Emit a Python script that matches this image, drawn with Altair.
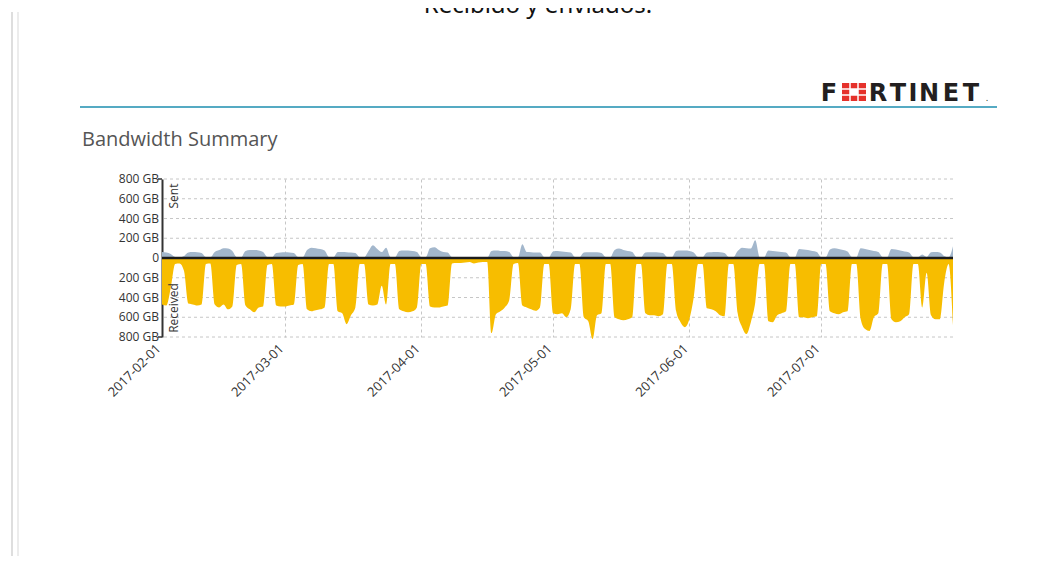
import altair as alt
import pandas as pd

# ---------------- data (GB per day) ----------------
start_date = "2017-02-01"
received_gb = [
    470, 480, 300, 60, 55,                 # Wed Feb 1 - Sun Feb 5
    130, 460, 470, 480, 470, 60, 55,       # Feb 6
    470, 500, 470, 520, 490, 70, 60,       # Feb 13
    480, 520, 550, 500, 490, 70, 60,       # Feb 20
    480, 490, 490, 480, 470, 70, 60,       # Feb 27
    520, 540, 530, 520, 500, 60, 60,       # Mar 6
    540, 560, 670, 580, 500, 60, 60,       # Mar 13
    470, 480, 470, 280, 470, 60, 60,       # Mar 20
    520, 540, 550, 540, 500, 60, 60,       # Mar 27
    490, 500, 500, 490, 480, 55, 50,       # Apr 3
    50, 45, 40, 55, 45, 40, 40,            # Apr 10
    760, 570, 540, 500, 430, 60, 50,       # Apr 17
    480, 500, 520, 535, 500, 60, 60,       # Apr 24
    560, 570, 560, 600, 520, 60, 60,       # May 1
    600, 640, 820, 580, 560, 60, 60,       # May 8
    600, 620, 630, 620, 600, 60, 60,       # May 15
    560, 580, 580, 590, 570, 60, 60,       # May 22
    540, 650, 700, 620, 400, 60, 60,       # May 29
    510, 520, 540, 580, 590, 60, 60,       # Jun 5
    560, 700, 770, 650, 450, 60, 60,       # Jun 12
    640, 650, 580, 560, 540, 60, 60,       # Jun 19
    600, 600, 610, 600, 590, 60, 60,       # Jun 26
    540, 560, 570, 550, 540, 60, 60,       # Jul 3
    620, 720, 740, 600, 560, 60, 60,       # Jul 10
    620, 650, 640, 600, 570, 60, 60,       # Jul 17
    500, 150, 580, 620, 620, 250, 60,      # Jul 24
    680,                                   # Jul 31
]
sent_gb = [
    60, 55, 40, 10, 8,
    20, 55, 60, 58, 50, 10, 8,
    60, 80, 100, 95, 70, 10, 8,
    70, 80, 80, 75, 60, 10, 8,
    50, 55, 58, 55, 50, 10, 8,
    80, 105, 100, 90, 75, 10, 8,
    60, 60, 58, 55, 50, 10, 8,
    70, 130, 90, 60, 105, 10, 8,
    70, 75, 75, 70, 60, 10, 8,
    100, 108, 80, 60, 55, 8, 5,
    4, 4, 3, 3, 3, 3, 3,
    70, 75, 72, 70, 60, 10, 8,
    140, 60, 58, 55, 55, 10, 8,
    65, 70, 65, 60, 55, 10, 8,
    55, 58, 58, 58, 50, 10, 8,
    80, 95, 80, 70, 60, 10, 8,
    55, 58, 58, 55, 50, 10, 8,
    70, 75, 75, 70, 55, 10, 8,
    55, 58, 60, 58, 50, 10, 8,
    70, 105, 100, 95, 180, 10, 8,
    75, 70, 65, 60, 55, 10, 8,
    90, 85, 80, 70, 60, 10, 8,
    85, 100, 90, 80, 65, 10, 8,
    100, 90, 80, 70, 60, 10, 8,
    90, 85, 75, 65, 55, 10, 8,
    35, 10, 58, 60, 55, 20, 8,
    120,
]
y_ticks = [-800, -600, -400, -200, 0, 200, 400, 600, 800]
grid_ticks = [-800, -600, -400, -200, 200, 400, 600, 800]
month_ticks = [2, 3, 4, 5, 6, 7]

dates = pd.date_range(start_date, periods=len(received_gb), freq="D")
df = pd.DataFrame({
    "date": dates.strftime("%Y-%m-%dT00:00:00"),
    "sent": sent_gb,
    "received": received_gb,
})
grid_df = pd.DataFrame({"gb": grid_ticks})
ytick_df = pd.DataFrame({"gb": y_ticks})

W, H = 791, 158
FONT = "Open Sans"
GRID = "#c6c6c6"

x_enc = alt.X(
    "date:T",
    scale=alt.Scale(domain=[alt.DateTime(year=2017, month=2, date=1),
                            alt.DateTime(year=2017, month=7, date=31)], nice=False),
    axis=alt.Axis(
        values=[alt.DateTime(year=2017, month=m, date=1) for m in month_ticks],
        format="%Y-%m-%d", labelAngle=-45, labelAlign="right", labelBaseline="top",
        labelPadding=5, labelFontSize=13, labelColor="#333", labelFont=FONT,
        labelOverlap=False, labelOffset=-8,
        grid=True, gridDash=[3, 3], gridColor=GRID, gridWidth=1,
        domain=False, ticks=False, title=None,
    ),
)
y_scale = alt.Scale(domain=[-800, 800], nice=False)
y_axis = alt.Axis(
    values=y_ticks, labels=False, grid=False,
    domain=True, domainColor="#333", domainWidth=2, ticks=False, title=None,
)

base = alt.Chart(df)
hgrid = alt.Chart(grid_df).mark_rule(color=GRID, strokeDash=[3, 3], strokeWidth=1).encode(
    y=alt.Y("gb:Q", scale=y_scale, axis=y_axis)
)
ylabels = alt.Chart(ytick_df).transform_calculate(
    lbl="datum.gb == 0 ? '0' : abs(datum.gb) + ' GB'"
).mark_text(align="right", baseline="middle", fontSize=12, font=FONT, color="#333").encode(
    y=alt.Y("gb:Q", scale=y_scale, axis=y_axis),
    x=alt.value(-3),
    text="lbl:N",
)
sent_area = base.mark_area(color="#a3b7cc", interpolate="monotone").encode(
    x=x_enc,
    y=alt.Y("sent:Q", scale=y_scale, axis=y_axis),
)
recv_area = base.transform_calculate(neg="-datum.received").mark_area(
    color="#f7bd00", interpolate="monotone"
).encode(
    x="date:T",
    y=alt.Y("neg:Q", scale=y_scale, axis=y_axis),
)

one = pd.DataFrame({"k": [0]})
deco = alt.Chart(one)

zero_line = deco.mark_rule(color="#1c1c1c", strokeWidth=2.5).encode(y=alt.datum(0))
bracket_top = deco.mark_rule(color="#333", strokeWidth=1.5).encode(
    y=alt.datum(800), x=alt.value(-4), x2=alt.value(0))
bracket_bot = deco.mark_rule(color="#333", strokeWidth=1.5).encode(
    y=alt.datum(-800), x=alt.value(-4), x2=alt.value(0))

sent_lbl = deco.mark_text(angle=270, fontSize=12, font=FONT, color="#333",
                          align="center", baseline="middle").encode(
    x=alt.value(12), y=alt.value(17), text=alt.value("Sent"))
recv_lbl = deco.mark_text(angle=270, fontSize=12, font=FONT, color="#333",
                          align="center", baseline="middle").encode(
    x=alt.value(12), y=alt.value(129), text=alt.value("Received"))

# page decorations (coordinates relative to plot origin at page (162,179))
top_title = deco.mark_text(fontSize=24, font="Noto Sans", color="#111",
                           align="center", baseline="alphabetic").encode(
    x=alt.value(376), y=alt.value(-166), text=alt.value("Recibido y enviados."))
section = deco.mark_text(fontSize=20, font=FONT, color="#555",
                         align="left", baseline="alphabetic").encode(
    x=alt.value(-80), y=alt.value(-33), text=alt.value("Bandwidth Summary"))
teal = deco.mark_rule(color="#55aac3", strokeWidth=2).encode(
    x=alt.value(-82), x2=alt.value(835), y=alt.value(-72))
left1 = deco.mark_rule(color="#dedede", strokeWidth=2).encode(
    x=alt.value(-150), y=alt.value(-167), y2=alt.value(400))
left2 = deco.mark_rule(color="#ececec", strokeWidth=2).encode(
    x=alt.value(-144), y=alt.value(-167), y2=alt.value(400))

logo_layers = []
for ch, cx in [("F", 667), ("R", 716), ("T", 736), ("I", 751), ("N", 767),
               ("E", 789), ("T", 809)]:
    logo_layers.append(deco.mark_text(fontSize=24, font="DejaVu Sans", fontWeight="bold",
                                      color="#231f20", align="center",
                                      baseline="alphabetic").encode(
        x=alt.value(cx), y=alt.value(-78), text=alt.value(ch)))
logo_layers.append(deco.mark_text(fontSize=8, font="DejaVu Sans", color="#231f20",
                                  align="center", baseline="alphabetic").encode(
    x=alt.value(825), y=alt.value(-78), text=alt.value(".")))
logo_o = deco.mark_rect(fill="#e5312b").encode(
    x=alt.value(680), x2=alt.value(704), y=alt.value(-96), y2=alt.value(-78))
logo_o_hole = deco.mark_rect(fill="white").encode(
    x=alt.value(688), x2=alt.value(696), y=alt.value(-90), y2=alt.value(-84))
logo_cuts = [
    deco.mark_rule(color="white", strokeWidth=1.5).encode(
        x=alt.value(688), y=alt.value(-97), y2=alt.value(-77)),
    deco.mark_rule(color="white", strokeWidth=1.5).encode(
        x=alt.value(696), y=alt.value(-97), y2=alt.value(-77)),
    deco.mark_rule(color="white", strokeWidth=1.5).encode(
        y=alt.value(-90), x=alt.value(679), x2=alt.value(705)),
    deco.mark_rule(color="white", strokeWidth=1.5).encode(
        y=alt.value(-84), x=alt.value(679), x2=alt.value(705)),
]

chart = alt.layer(
    hgrid, sent_area, recv_area, ylabels, zero_line, bracket_top, bracket_bot,
    sent_lbl, recv_lbl, top_title, section, teal, left1, left2,
    logo_o, logo_o_hole, *logo_cuts, *logo_layers,
).properties(
    width=W, height=H,
    autosize=alt.AutoSizeParams(type="none"),
    padding={"left": 154, "top": 171, "right": 77, "bottom": 219},
    background="white",
).configure_view(stroke=None)

chart.save("out.html", embed_options={"renderer": "svg", "actions": False})
